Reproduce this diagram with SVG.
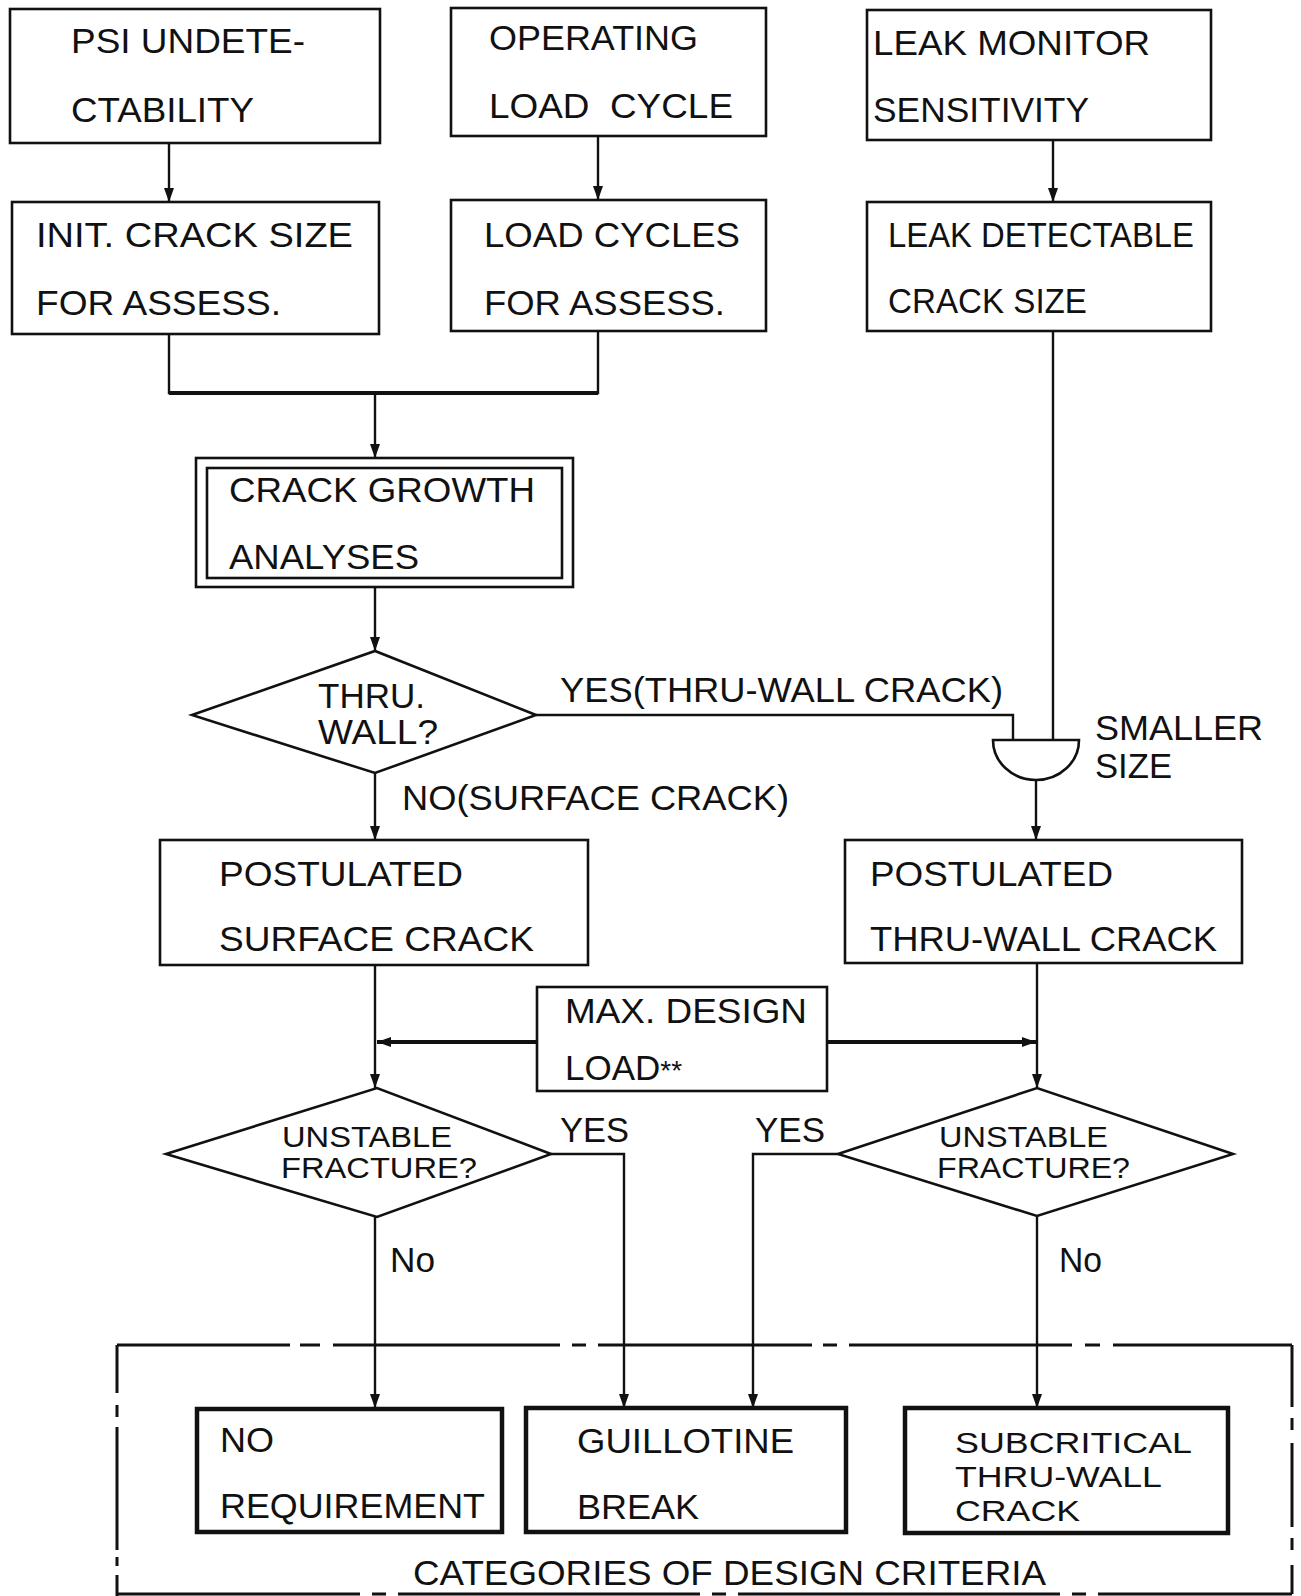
<svg xmlns="http://www.w3.org/2000/svg" width="1301" height="1596" viewBox="0 0 1301 1596">
<style>
.box{fill:#fff;stroke:#111;stroke-width:2.6}
.bold{fill:#fff;stroke:#111;stroke-width:4.5}
.ln{fill:none;stroke:#111;stroke-width:2.4}
.thk{fill:none;stroke:#111;stroke-width:4}
.encl{fill:none;stroke:#111;stroke-width:3}
text{font-family:"Liberation Sans",Arial,Helvetica,sans-serif;font-size:35px;fill:#111}
.sm{font-size:29px}
.tight{font-size:30px}
</style>
<defs>
<marker id="ar" viewBox="0 0 14 10" refX="14" refY="5" markerWidth="14" markerHeight="10" markerUnits="userSpaceOnUse" orient="auto">
<path d="M0,0 L14,5 L0,10 z" fill="#111"/>
</marker>
</defs>
<rect width="1301" height="1596" fill="#fff"/>

<g id="connectors">
<line class="ln" x1="169" y1="143" x2="169" y2="202" marker-end="url(#ar)"/>
<line class="ln" x1="598" y1="136" x2="598" y2="200" marker-end="url(#ar)"/>
<line class="ln" x1="1053" y1="140" x2="1053" y2="202" marker-end="url(#ar)"/>
<polyline class="ln" points="169,334 169,393 598,393 598,331"/>
<line class="thk" x1="169" y1="393" x2="598" y2="393"/>
<line class="ln" x1="375" y1="393" x2="375" y2="458" marker-end="url(#ar)"/>
<line class="ln" x1="375" y1="587" x2="375" y2="651" marker-end="url(#ar)"/>
<polyline class="ln" points="536,715 1013,715 1013,740"/>
<line class="ln" x1="1053" y1="331" x2="1053" y2="740"/>
<line class="ln" x1="1036" y1="780" x2="1036" y2="840" marker-end="url(#ar)"/>
<line class="ln" x1="375" y1="773" x2="375" y2="840" marker-end="url(#ar)"/>
<line class="ln" x1="375" y1="965" x2="375" y2="1088" marker-end="url(#ar)"/>
<line class="ln" x1="1037" y1="963" x2="1037" y2="1088" marker-end="url(#ar)"/>
<line class="thk" x1="538" y1="1042" x2="377" y2="1042" marker-end="url(#ar)"/>
<line class="thk" x1="826" y1="1042" x2="1036" y2="1042" marker-end="url(#ar)"/>
<line class="ln" x1="375" y1="1217" x2="375" y2="1408" marker-end="url(#ar)"/>
<polyline class="ln" points="551,1154 624,1154 624,1408" marker-end="url(#ar)"/>
<polyline class="ln" points="838,1154 753,1154 753,1408" marker-end="url(#ar)"/>
<line class="ln" x1="1037" y1="1216" x2="1037" y2="1408" marker-end="url(#ar)"/>
</g>

<g id="n-psi">
<rect class="box" x="10" y="9" width="370" height="134"/>
<text x="71" y="53" textLength="234" lengthAdjust="spacingAndGlyphs">PSI UNDETE-</text>
<text x="71" y="122" textLength="183" lengthAdjust="spacingAndGlyphs">CTABILITY</text>
</g>
<g id="n-operating">
<rect class="box" x="451" y="8" width="315" height="128"/>
<text x="489" y="50" textLength="209" lengthAdjust="spacingAndGlyphs">OPERATING</text>
<text x="489" y="118" textLength="244" lengthAdjust="spacingAndGlyphs" xml:space="preserve">LOAD  CYCLE</text>
</g>
<g id="n-leakmon">
<rect class="box" x="867" y="10" width="344" height="130"/>
<text x="873" y="55" textLength="277" lengthAdjust="spacingAndGlyphs">LEAK MONITOR</text>
<text x="873" y="122" textLength="216" lengthAdjust="spacingAndGlyphs">SENSITIVITY</text>
</g>
<g id="n-init">
<rect class="box" x="12" y="202" width="367" height="132"/>
<text x="36" y="247" textLength="317" lengthAdjust="spacingAndGlyphs">INIT. CRACK SIZE</text>
<text x="36" y="315" textLength="245" lengthAdjust="spacingAndGlyphs">FOR ASSESS.</text>
</g>
<g id="n-loadcycles">
<rect class="box" x="451" y="200" width="315" height="131"/>
<text x="484" y="247" textLength="256" lengthAdjust="spacingAndGlyphs">LOAD CYCLES</text>
<text x="484" y="315" textLength="241" lengthAdjust="spacingAndGlyphs">FOR ASSESS.</text>
</g>
<g id="n-leakdet">
<rect class="box" x="867" y="202" width="344" height="129"/>
<text x="888" y="247" textLength="306" lengthAdjust="spacingAndGlyphs">LEAK DETECTABLE</text>
<text x="888" y="313" textLength="199" lengthAdjust="spacingAndGlyphs">CRACK SIZE</text>
</g>
<g id="n-growth">
<rect class="box" x="196" y="458" width="377" height="129"/>
<rect class="box" x="207" y="468" width="355" height="110"/>
<text x="229" y="502" textLength="306" lengthAdjust="spacingAndGlyphs">CRACK GROWTH</text>
<text x="229" y="569" textLength="190" lengthAdjust="spacingAndGlyphs">ANALYSES</text>
</g>
<g id="n-thruwall">
<polygon class="box" points="192,715 375,651 536,715 375,773"/>
<text x="318" y="708" textLength="107" lengthAdjust="spacingAndGlyphs">THRU.</text>
<text x="318" y="744" textLength="120" lengthAdjust="spacingAndGlyphs">WALL?</text>
</g>
<g id="l-yes-thru">
<text x="560" y="702" textLength="443" lengthAdjust="spacingAndGlyphs">YES(THRU-WALL CRACK)</text>
</g>
<g id="l-no-surface">
<text x="402" y="810" textLength="387" lengthAdjust="spacingAndGlyphs">NO(SURFACE CRACK)</text>
</g>
<g id="n-smaller">
<path class="box" d="M993,740 L1079,740 A43,40 0 0 1 993,740 Z"/>
<text x="1095" y="740" font-size="31" textLength="168" lengthAdjust="spacingAndGlyphs">SMALLER</text>
<text x="1095" y="778" font-size="31" textLength="77" lengthAdjust="spacingAndGlyphs">SIZE</text>
</g>
<g id="n-postsurf">
<rect class="box" x="160" y="840" width="428" height="125"/>
<text x="219" y="886" textLength="244" lengthAdjust="spacingAndGlyphs">POSTULATED</text>
<text x="219" y="951" textLength="315" lengthAdjust="spacingAndGlyphs">SURFACE CRACK</text>
</g>
<g id="n-postthru">
<rect class="box" x="845" y="840" width="397" height="123"/>
<text x="870" y="886" textLength="243" lengthAdjust="spacingAndGlyphs">POSTULATED</text>
<text x="870" y="951" textLength="347" lengthAdjust="spacingAndGlyphs">THRU-WALL CRACK</text>
</g>
<g id="n-maxload">
<rect class="box" x="537" y="987" width="290" height="104"/>
<text x="565" y="1023" textLength="242" lengthAdjust="spacingAndGlyphs">MAX. DESIGN</text>
<text x="565" y="1080" font-size="36">LOAD<tspan font-size="28">**</tspan></text>
</g>
<g id="n-unstable-l">
<polygon class="box" points="166,1154 377,1088 551,1154 377,1217"/>
<text class="sm" x="282" y="1147" textLength="170" lengthAdjust="spacingAndGlyphs">UNSTABLE</text>
<text class="sm" x="281" y="1178" textLength="196" lengthAdjust="spacingAndGlyphs">FRACTURE?</text>
</g>
<g id="n-unstable-r">
<polygon class="box" points="838,1154 1037,1088 1233,1154 1037,1216"/>
<text class="sm" x="939" y="1147" textLength="169" lengthAdjust="spacingAndGlyphs">UNSTABLE</text>
<text class="sm" x="937" y="1178" textLength="193" lengthAdjust="spacingAndGlyphs">FRACTURE?</text>
</g>
<g id="labels">
<text x="560" y="1142" textLength="69" lengthAdjust="spacingAndGlyphs">YES</text>
<text x="755" y="1142" textLength="70" lengthAdjust="spacingAndGlyphs">YES</text>
<text x="390" y="1272" textLength="45" lengthAdjust="spacingAndGlyphs">No</text>
<text x="1059" y="1272" textLength="43" lengthAdjust="spacingAndGlyphs">No</text>
</g>
<g id="n-categories">
<path class="encl" d="M117,1345 H290 M300,1345 H320 M333,1345 H560 M572,1345 H586 M598,1345 H812 M823,1345 H837 M849,1345 H1072 M1085,1345 H1100 M1113,1345 H1292"/>
<path class="encl" d="M117,1345 V1393 M117,1405 V1417 M117,1427 V1550 M117,1557 V1566 M117,1575 V1596"/>
<path class="encl" d="M1292,1345 V1407 M1292,1418 V1430 M1292,1443 V1527 M1292,1538 V1550 M1292,1565 V1594"/>
<path class="encl" d="M117,1594 H360 M372,1594 H386 M398,1594 H700 M712,1594 H726 M738,1594 H1060 M1072,1594 H1086 M1098,1594 H1292"/>
<text x="413" y="1585" textLength="633" lengthAdjust="spacingAndGlyphs">CATEGORIES OF DESIGN CRITERIA</text>
</g>
<g id="n-noreq">
<rect class="bold" x="197" y="1409" width="305" height="123"/>
<text x="220" y="1452" textLength="54" lengthAdjust="spacingAndGlyphs">NO</text>
<text x="220" y="1518" textLength="265" lengthAdjust="spacingAndGlyphs">REQUIREMENT</text>
</g>
<g id="n-guillotine">
<rect class="bold" x="526" y="1408" width="320" height="124"/>
<text x="577" y="1453" textLength="217" lengthAdjust="spacingAndGlyphs">GUILLOTINE</text>
<text x="577" y="1519" textLength="122" lengthAdjust="spacingAndGlyphs">BREAK</text>
</g>
<g id="n-subcrit">
<rect class="bold" x="905" y="1408" width="323" height="125"/>
<text class="tight" x="955" y="1453" textLength="237" lengthAdjust="spacingAndGlyphs">SUBCRITICAL</text>
<text class="tight" x="955" y="1487" textLength="207" lengthAdjust="spacingAndGlyphs">THRU-WALL</text>
<text class="tight" x="955" y="1521" textLength="125" lengthAdjust="spacingAndGlyphs">CRACK</text>
</g>
</svg>
